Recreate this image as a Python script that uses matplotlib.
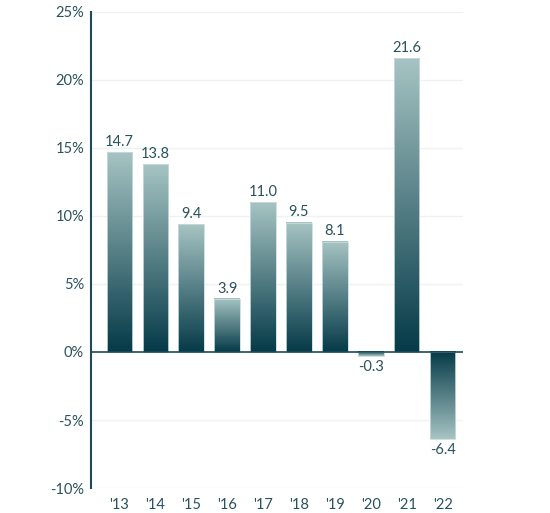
import numpy as np
import matplotlib.pyplot as plt
from matplotlib.colors import LinearSegmentedColormap

years = ["'13", "'14", "'15", "'16", "'17", "'18", "'19", "'20", "'21", "'22"]
returns = [14.7, 13.8, 9.4, 3.9, 11.0, 9.5, 8.1, -0.3, 21.6, -6.4]
yticks = [-10, -5, 0, 5, 10, 15, 20, 25]

dark = '#053a48'
light = '#a6c4c3'
text_c = '#2a525d'
cmap = LinearSegmentedColormap.from_list('teal', [dark, light])

plt.rcParams['font.family'] = ['Lato', 'DejaVu Sans']

fig = plt.figure(figsize=(5.5, 5.13), dpi=100)
ax = fig.add_axes([0.1655, 0.0487, 0.6764, 0.928])

x = np.arange(len(years))
bars = ax.bar(x, returns, width=0.71, facecolor='none', edgecolor='none', zorder=3)

grad = np.linspace(0, 1, 256).reshape(-1, 1)
for b, v in zip(bars, returns):
    x0 = b.get_x()
    x1 = x0 + b.get_width()
    # light at the value end, dark at zero
    ax.imshow(grad, cmap=cmap, aspect='auto', origin='lower',
              extent=[x0, x1, 0, v], zorder=3, interpolation='bilinear')
    ax.add_patch(plt.Rectangle((x0, min(0, v)), x1 - x0, abs(v), fill=False,
                               edgecolor='#c9dcdb', linewidth=0.6, zorder=4))
    if v >= 0:
        ax.text(b.get_x() + b.get_width() / 2, v + 0.25, f'{v:.1f}', ha='center', va='bottom',
                fontsize=10.5, color=text_c, zorder=5)
    else:
        ax.text(b.get_x() + b.get_width() / 2, v - 0.3, f'{v:.1f}', ha='center', va='top',
                fontsize=10.5, color=text_c, zorder=5)

ax.set_xlim(-0.79, 9.57)
ax.set_ylim(-10, 25)
ax.set_yticks(yticks)
ax.set_yticklabels([f'{t}%' for t in yticks])
ax.set_xticks(x)
ax.set_xticklabels(years)

for t in yticks:
    if t != 0:
        ax.axhline(t, color='#eef2f2', linewidth=1, zorder=1)
ax.axhline(0, color='#1e4a56', linewidth=1.2, zorder=6)

for s in ['top', 'right', 'bottom']:
    ax.spines[s].set_visible(False)
ax.spines['left'].set_color('#1e4a56')
ax.spines['left'].set_linewidth(1.5)
ax.tick_params(axis='both', length=0, colors=text_c, labelsize=10.5)
ax.tick_params(axis='y', pad=5)
ax.tick_params(axis='x', pad=7)

fig.savefig('out.png', dpi=100)
